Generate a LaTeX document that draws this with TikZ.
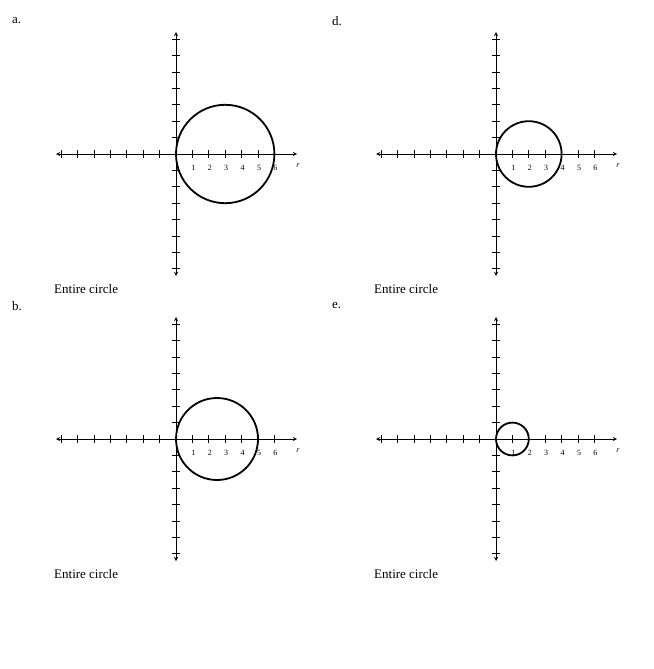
\documentclass[tikz,border=0pt]{standalone}
\usepackage{fontspec}
\setmainfont{Liberation Serif}
\begin{document}
\begin{tikzpicture}[x=1pt,y=-1pt,
  ax/.style={line width=0.9pt,<->,>=stealth},
  tk/.style={line width=0.7pt},
  circ/.style={line width=1.8pt},
  num/.style={font=\fontsize{8}{9}\selectfont,inner sep=0pt},
  lbl/.style={font=\fontsize{13}{15}\selectfont,anchor=west,inner sep=0pt}]
\useasboundingbox (0,0) rectangle (653,669);
\def\u{16.4}
\newcommand{\panel}[4]{%
  \begin{scope}[shift={(#1,#2)}]
    \draw[ax] (-120,0) -- (121,0);
    \draw[ax] (0,-122) -- (0,122);
    \foreach \k in {1,...,7}{
      \draw[tk] (-\k*\u,-4) -- (-\k*\u,4);
      \draw[tk] (-4,\k*\u) -- (4,\k*\u);
      \draw[tk] (-4,-\k*\u) -- (4,-\k*\u);}
    \foreach \k in {1,...,6}{
      \draw[tk] (\k*\u,-4) -- (\k*\u,4);
      \node[num] at (\k*\u+1,14) {\k};}
    \node[num] at (122,12) {\itshape r};
    \draw[circ] (#3*\u,0) circle (#3*\u);
    \node[lbl] at (-122,135) {Entire circle};
    \node[lbl] at (-164,-133) {#4};
  \end{scope}}
\panel{176}{154}{3}{a.}
\panel{496}{154}{2}{d.}
\panel{176}{439}{2.5}{b.}
\panel{496}{439}{1}{e.}
\end{tikzpicture}
\end{document}
